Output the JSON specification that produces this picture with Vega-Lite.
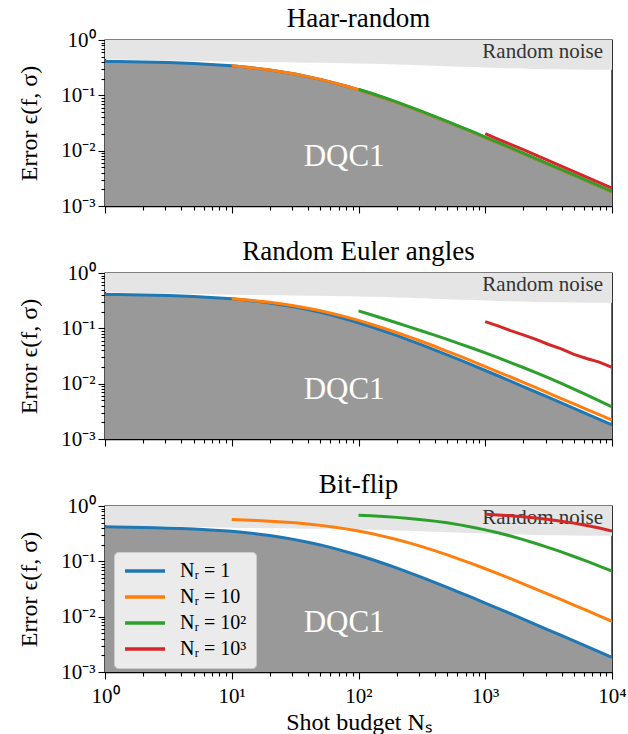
{
  "$schema": "https://vega.github.io/schema/vega-lite/v6.json",
  "padding": {"left": 17, "top": 4, "right": 0, "bottom": 0},
  "datasets": {
    "base": [
      {"x": 1, "dqc": 0.41, "noise": 0.45},
      {"x": 1.259, "dqc": 0.408, "noise": 0.445},
      {"x": 1.585, "dqc": 0.405, "noise": 0.44},
      {"x": 1.995, "dqc": 0.401, "noise": 0.435},
      {"x": 2.512, "dqc": 0.397, "noise": 0.43},
      {"x": 3.162, "dqc": 0.391, "noise": 0.425},
      {"x": 3.981, "dqc": 0.384, "noise": 0.42},
      {"x": 5.012, "dqc": 0.376, "noise": 0.416},
      {"x": 6.31, "dqc": 0.366, "noise": 0.412},
      {"x": 7.943, "dqc": 0.355, "noise": 0.408},
      {"x": 10, "dqc": 0.341, "noise": 0.405},
      {"x": 12.59, "dqc": 0.325, "noise": 0.402},
      {"x": 15.85, "dqc": 0.307, "noise": 0.4},
      {"x": 19.95, "dqc": 0.287, "noise": 0.397},
      {"x": 25.12, "dqc": 0.265, "noise": 0.395},
      {"x": 31.62, "dqc": 0.242, "noise": 0.392},
      {"x": 39.81, "dqc": 0.218, "noise": 0.39},
      {"x": 50.12, "dqc": 0.194, "noise": 0.387},
      {"x": 63.1, "dqc": 0.17, "noise": 0.385},
      {"x": 79.43, "dqc": 0.1475, "noise": 0.382},
      {"x": 100, "dqc": 0.126, "noise": 0.378},
      {"x": 125.9, "dqc": 0.107, "noise": 0.373},
      {"x": 158.5, "dqc": 0.0896, "noise": 0.368},
      {"x": 199.5, "dqc": 0.0745, "noise": 0.362},
      {"x": 251.2, "dqc": 0.0614, "noise": 0.356},
      {"x": 316.2, "dqc": 0.0503, "noise": 0.35},
      {"x": 398.1, "dqc": 0.0409, "noise": 0.343},
      {"x": 501.2, "dqc": 0.0332, "noise": 0.336},
      {"x": 631, "dqc": 0.0268, "noise": 0.33},
      {"x": 794.3, "dqc": 0.0216, "noise": 0.324},
      {"x": 1000, "dqc": 0.0173, "noise": 0.318},
      {"x": 1259, "dqc": 0.0139, "noise": 0.313},
      {"x": 1585, "dqc": 0.0111, "noise": 0.308},
      {"x": 1995, "dqc": 0.00886, "noise": 0.304},
      {"x": 2512, "dqc": 0.00707, "noise": 0.3},
      {"x": 3162, "dqc": 0.00563, "noise": 0.297},
      {"x": 3981, "dqc": 0.00449, "noise": 0.295},
      {"x": 5012, "dqc": 0.00357, "noise": 0.293},
      {"x": 6310, "dqc": 0.00284, "noise": 0.291},
      {"x": 7943, "dqc": 0.00226, "noise": 0.29},
      {"x": 10000, "dqc": 0.0018, "noise": 0.289}
    ],
    "lines": [
      {"p": "haar", "x": 1, "a": 0.41},
      {"p": "haar", "x": 1.259, "a": 0.408},
      {"p": "haar", "x": 1.585, "a": 0.405},
      {"p": "haar", "x": 1.995, "a": 0.401},
      {"p": "haar", "x": 2.512, "a": 0.397},
      {"p": "haar", "x": 3.162, "a": 0.391},
      {"p": "haar", "x": 3.981, "a": 0.384},
      {"p": "haar", "x": 5.012, "a": 0.376},
      {"p": "haar", "x": 6.31, "a": 0.366},
      {"p": "haar", "x": 7.943, "a": 0.355},
      {"p": "haar", "x": 10, "a": 0.341, "b": 0.341},
      {"p": "haar", "x": 12.59, "a": 0.325, "b": 0.325},
      {"p": "haar", "x": 15.85, "a": 0.307, "b": 0.307},
      {"p": "haar", "x": 19.95, "a": 0.287, "b": 0.287},
      {"p": "haar", "x": 25.12, "a": 0.265, "b": 0.265},
      {"p": "haar", "x": 31.62, "a": 0.242, "b": 0.242},
      {"p": "haar", "x": 39.81, "a": 0.218, "b": 0.218},
      {"p": "haar", "x": 50.12, "a": 0.194, "b": 0.194},
      {"p": "haar", "x": 63.1, "a": 0.17, "b": 0.17},
      {"p": "haar", "x": 79.43, "a": 0.1475, "b": 0.1475},
      {"p": "haar", "x": 100, "a": 0.126, "b": 0.126, "c": 0.1285},
      {"p": "haar", "x": 125.9, "a": 0.107, "b": 0.107, "c": 0.1091},
      {"p": "haar", "x": 158.5, "a": 0.0896, "b": 0.0896, "c": 0.0914},
      {"p": "haar", "x": 199.5, "a": 0.0745, "b": 0.0745, "c": 0.076},
      {"p": "haar", "x": 251.2, "a": 0.0614, "b": 0.0614, "c": 0.0626},
      {"p": "haar", "x": 316.2, "a": 0.0503, "b": 0.0503, "c": 0.0513},
      {"p": "haar", "x": 398.1, "a": 0.0409, "b": 0.0409, "c": 0.0417},
      {"p": "haar", "x": 501.2, "a": 0.0332, "b": 0.0332, "c": 0.0339},
      {"p": "haar", "x": 631, "a": 0.0268, "b": 0.0268, "c": 0.0273},
      {"p": "haar", "x": 794.3, "a": 0.0216, "b": 0.0216, "c": 0.022},
      {"p": "haar", "x": 1000, "a": 0.0173, "b": 0.0173, "c": 0.01765, "d": 0.0203},
      {"p": "haar", "x": 1259, "a": 0.0139, "b": 0.0139, "c": 0.01418, "d": 0.0162},
      {"p": "haar", "x": 1585, "a": 0.0111, "b": 0.0111, "c": 0.01132, "d": 0.013},
      {"p": "haar", "x": 1995, "a": 0.00886, "b": 0.00886, "c": 0.00904, "d": 0.0104},
      {"p": "haar", "x": 2512, "a": 0.00707, "b": 0.00707, "c": 0.00721, "d": 0.00827},
      {"p": "haar", "x": 3162, "a": 0.00563, "b": 0.00563, "c": 0.00574, "d": 0.00659},
      {"p": "haar", "x": 3981, "a": 0.00449, "b": 0.00449, "c": 0.00458, "d": 0.00525},
      {"p": "haar", "x": 5012, "a": 0.00357, "b": 0.00357, "c": 0.00364, "d": 0.00418},
      {"p": "haar", "x": 6310, "a": 0.00284, "b": 0.00284, "c": 0.0029, "d": 0.00332},
      {"p": "haar", "x": 7943, "a": 0.00226, "b": 0.00226, "c": 0.00231, "d": 0.00264},
      {"p": "haar", "x": 10000, "a": 0.0018, "b": 0.0018, "c": 0.00184, "d": 0.00211},

      {"p": "euler", "x": 1, "a": 0.41},
      {"p": "euler", "x": 1.259, "a": 0.408},
      {"p": "euler", "x": 1.585, "a": 0.405},
      {"p": "euler", "x": 1.995, "a": 0.401},
      {"p": "euler", "x": 2.512, "a": 0.397},
      {"p": "euler", "x": 3.162, "a": 0.391},
      {"p": "euler", "x": 3.981, "a": 0.384},
      {"p": "euler", "x": 5.012, "a": 0.376},
      {"p": "euler", "x": 6.31, "a": 0.366},
      {"p": "euler", "x": 7.943, "a": 0.355},
      {"p": "euler", "x": 10, "a": 0.341, "b": 0.341},
      {"p": "euler", "x": 12.59, "a": 0.325, "b": 0.328},
      {"p": "euler", "x": 15.85, "a": 0.307, "b": 0.313},
      {"p": "euler", "x": 19.95, "a": 0.287, "b": 0.296},
      {"p": "euler", "x": 25.12, "a": 0.265, "b": 0.276},
      {"p": "euler", "x": 31.62, "a": 0.242, "b": 0.254},
      {"p": "euler", "x": 39.81, "a": 0.218, "b": 0.231},
      {"p": "euler", "x": 50.12, "a": 0.194, "b": 0.2075},
      {"p": "euler", "x": 63.1, "a": 0.17, "b": 0.184},
      {"p": "euler", "x": 79.43, "a": 0.1475, "b": 0.161},
      {"p": "euler", "x": 100, "a": 0.126, "b": 0.139, "c": 0.207},
      {"p": "euler", "x": 125.9, "a": 0.107, "b": 0.1187, "c": 0.176},
      {"p": "euler", "x": 158.5, "a": 0.0896, "b": 0.1004, "c": 0.149},
      {"p": "euler", "x": 199.5, "a": 0.0745, "b": 0.0842, "c": 0.126},
      {"p": "euler", "x": 251.2, "a": 0.0614, "b": 0.07, "c": 0.106},
      {"p": "euler", "x": 316.2, "a": 0.0503, "b": 0.0578, "c": 0.0895},
      {"p": "euler", "x": 398.1, "a": 0.0409, "b": 0.0474, "c": 0.0752},
      {"p": "euler", "x": 501.2, "a": 0.0332, "b": 0.0385, "c": 0.063},
      {"p": "euler", "x": 631, "a": 0.0268, "b": 0.0314, "c": 0.0525},
      {"p": "euler", "x": 794.3, "a": 0.0216, "b": 0.0253, "c": 0.0436},
      {"p": "euler", "x": 1000, "a": 0.0173, "b": 0.0204, "c": 0.036, "d": 0.132},
      {"p": "euler", "x": 1259, "a": 0.0139, "b": 0.01637, "c": 0.0295, "d": 0.111},
      {"p": "euler", "x": 1585, "a": 0.0111, "b": 0.0132, "c": 0.0241, "d": 0.0912},
      {"p": "euler", "x": 1995, "a": 0.00886, "b": 0.01054, "c": 0.0196, "d": 0.0762},
      {"p": "euler", "x": 2512, "a": 0.00707, "b": 0.00848, "c": 0.0158, "d": 0.0631},
      {"p": "euler", "x": 3162, "a": 0.00563, "b": 0.00676, "c": 0.0127, "d": 0.051},
      {"p": "euler", "x": 3981, "a": 0.00449, "b": 0.00539, "c": 0.0101, "d": 0.0427},
      {"p": "euler", "x": 5012, "a": 0.00357, "b": 0.00432, "c": 0.00798, "d": 0.0339},
      {"p": "euler", "x": 6310, "a": 0.00284, "b": 0.00344, "c": 0.00627, "d": 0.0285},
      {"p": "euler", "x": 7943, "a": 0.00226, "b": 0.00276, "c": 0.0049, "d": 0.0245},
      {"p": "euler", "x": 10000, "a": 0.0018, "b": 0.0022, "c": 0.0038, "d": 0.0198},

      {"p": "flip", "x": 1, "a": 0.42},
      {"p": "flip", "x": 1.259, "a": 0.417},
      {"p": "flip", "x": 1.585, "a": 0.414},
      {"p": "flip", "x": 1.995, "a": 0.41},
      {"p": "flip", "x": 2.512, "a": 0.405},
      {"p": "flip", "x": 3.162, "a": 0.398},
      {"p": "flip", "x": 3.981, "a": 0.391},
      {"p": "flip", "x": 5.012, "a": 0.383},
      {"p": "flip", "x": 6.31, "a": 0.373},
      {"p": "flip", "x": 7.943, "a": 0.362},
      {"p": "flip", "x": 10, "a": 0.348, "b": 0.5685},
      {"p": "flip", "x": 12.59, "a": 0.331, "b": 0.5587},
      {"p": "flip", "x": 15.85, "a": 0.313, "b": 0.5467},
      {"p": "flip", "x": 19.95, "a": 0.293, "b": 0.5325},
      {"p": "flip", "x": 25.12, "a": 0.27, "b": 0.5155},
      {"p": "flip", "x": 31.62, "a": 0.247, "b": 0.4956},
      {"p": "flip", "x": 39.81, "a": 0.222, "b": 0.4726},
      {"p": "flip", "x": 50.12, "a": 0.198, "b": 0.4466},
      {"p": "flip", "x": 63.1, "a": 0.173, "b": 0.4176},
      {"p": "flip", "x": 79.43, "a": 0.15, "b": 0.3861},
      {"p": "flip", "x": 100, "a": 0.129, "b": 0.3526, "c": 0.6804},
      {"p": "flip", "x": 125.9, "a": 0.109, "b": 0.3179, "c": 0.6645},
      {"p": "flip", "x": 158.5, "a": 0.0914, "b": 0.2828, "c": 0.6454},
      {"p": "flip", "x": 199.5, "a": 0.076, "b": 0.2484, "c": 0.6229},
      {"p": "flip", "x": 251.2, "a": 0.0626, "b": 0.2153, "c": 0.5968},
      {"p": "flip", "x": 316.2, "a": 0.0513, "b": 0.1844, "c": 0.5668},
      {"p": "flip", "x": 398.1, "a": 0.0417, "b": 0.1562, "c": 0.533},
      {"p": "flip", "x": 501.2, "a": 0.0339, "b": 0.131, "c": 0.4959},
      {"p": "flip", "x": 631, "a": 0.0273, "b": 0.1088, "c": 0.4559},
      {"p": "flip", "x": 794.3, "a": 0.022, "b": 0.0897, "c": 0.4139},
      {"p": "flip", "x": 1000, "a": 0.01765, "b": 0.0735, "c": 0.3708, "d": 0.71},
      {"p": "flip", "x": 1259, "a": 0.01418, "b": 0.0599, "c": 0.3279, "d": 0.69},
      {"p": "flip", "x": 1585, "a": 0.01132, "b": 0.0485, "c": 0.2862, "d": 0.666},
      {"p": "flip", "x": 1995, "a": 0.00904, "b": 0.0392, "c": 0.2467, "d": 0.639},
      {"p": "flip", "x": 2512, "a": 0.00721, "b": 0.0315, "c": 0.2101, "d": 0.607},
      {"p": "flip", "x": 3162, "a": 0.00574, "b": 0.0253, "c": 0.1772, "d": 0.571},
      {"p": "flip", "x": 3981, "a": 0.00458, "b": 0.0203, "c": 0.1479, "d": 0.532},
      {"p": "flip", "x": 5012, "a": 0.00364, "b": 0.0162, "c": 0.1224, "d": 0.49},
      {"p": "flip", "x": 6310, "a": 0.0029, "b": 0.01296, "c": 0.1006, "d": 0.445},
      {"p": "flip", "x": 7943, "a": 0.00231, "b": 0.01034, "c": 0.0822, "d": 0.399},
      {"p": "flip", "x": 10000, "a": 0.00184, "b": 0.00824, "c": 0.0668, "d": 0.353}
    ]
  },
  "spacing": 20,
  "resolve": {"scale": {"color": "independent"}, "legend": {"color": "independent"}},
  "vconcat": [
    {
      "title": "Haar-random",
      "width": 507,
      "height": 166,
      "layer": [
        {
          "data": {"name": "base"},
          "mark": {"type": "area", "color": "#e5e5e5", "clip": true},
          "encoding": {
            "x": {"field": "x", "type": "quantitative", "scale": {"type": "log", "domain": [1, 10000]},
              "axis": {"title": null, "labels": false,
                "values": [1,2,3,4,5,6,7,8,9,10,20,30,40,50,60,70,80,90,100,200,300,400,500,600,700,800,900,1000,2000,3000,4000,5000,6000,7000,8000,9000,10000],
                "tickSize": {"condition": {"test": "datum.value == 1 || datum.value == 10 || datum.value == 100 || datum.value == 1000 || datum.value == 10000", "value": 7}, "value": 4}}},
            "y": {"field": "noise", "type": "quantitative", "scale": {"type": "log", "domain": [0.001, 1]},
              "axis": {"title": "Error ϵ(f, σ)",
                "values": [0.001,0.002,0.003,0.004,0.005,0.006,0.007,0.008,0.009,0.01,0.02,0.03,0.04,0.05,0.06,0.07,0.08,0.09,0.1,0.2,0.3,0.4,0.5,0.6,0.7,0.8,0.9,1],
                "labelExpr": "datum.value == 1 ? '10⁰' : datum.value == 0.1 ? '10⁻¹' : datum.value == 0.01 ? '10⁻²' : datum.value == 0.001 ? '10⁻³' : ''",
                "tickSize": {"condition": {"test": "datum.value == 1 || datum.value == 0.1 || datum.value == 0.01 || datum.value == 0.001", "value": 7}, "value": 4}}},
            "y2": {"datum": 1}
          }
        },
        {
          "data": {"name": "base"},
          "mark": {"type": "area", "color": "#999999", "clip": true},
          "encoding": {
            "x": {"field": "x", "type": "quantitative"},
            "y": {"field": "dqc", "type": "quantitative"},
            "y2": {"datum": 0.001}
          }
        },
        {
          "data": {"values": [{}]},
          "mark": {"type": "text", "text": "Random noise", "align": "right", "baseline": "middle", "fontSize": 21, "color": "#333333"},
          "encoding": {"x": {"datum": 8500, "type": "quantitative"}, "y": {"datum": 0.6, "type": "quantitative"}}
        },
        {
          "data": {"values": [{}]},
          "mark": {"type": "text", "text": "DQC1", "align": "center", "baseline": "middle", "fontSize": 31, "color": "white"},
          "encoding": {"x": {"datum": 77, "type": "quantitative"}, "y": {"datum": 0.0076, "type": "quantitative"}}
        },
        {
          "data": {"name": "lines"},
          "transform": [
            {"filter": "datum.p == 'haar'"},
            {"fold": ["a", "b", "c", "d"], "as": ["s", "v"]},
            {"filter": "isValid(datum.v)"}
          ],
          "mark": {"type": "line", "strokeWidth": 3, "clip": true},
          "encoding": {
            "x": {"field": "x", "type": "quantitative"},
            "y": {"field": "v", "type": "quantitative"},
            "color": {"field": "s", "type": "nominal", "scale": {"domain": ["a", "b", "c", "d"], "range": ["#1f77b4", "#ff7f0e", "#2ca02c", "#d62728"]}, "legend": null}
          }
        }
      ]
    },
    {
      "title": "Random Euler angles",
      "width": 507,
      "height": 166,
      "layer": [
        {
          "data": {"name": "base"},
          "mark": {"type": "area", "color": "#e5e5e5", "clip": true},
          "encoding": {
            "x": {"field": "x", "type": "quantitative", "scale": {"type": "log", "domain": [1, 10000]},
              "axis": {"title": null, "labels": false,
                "values": [1,2,3,4,5,6,7,8,9,10,20,30,40,50,60,70,80,90,100,200,300,400,500,600,700,800,900,1000,2000,3000,4000,5000,6000,7000,8000,9000,10000],
                "tickSize": {"condition": {"test": "datum.value == 1 || datum.value == 10 || datum.value == 100 || datum.value == 1000 || datum.value == 10000", "value": 7}, "value": 4}}},
            "y": {"field": "noise", "type": "quantitative", "scale": {"type": "log", "domain": [0.001, 1]},
              "axis": {"title": "Error ϵ(f, σ)",
                "values": [0.001,0.002,0.003,0.004,0.005,0.006,0.007,0.008,0.009,0.01,0.02,0.03,0.04,0.05,0.06,0.07,0.08,0.09,0.1,0.2,0.3,0.4,0.5,0.6,0.7,0.8,0.9,1],
                "labelExpr": "datum.value == 1 ? '10⁰' : datum.value == 0.1 ? '10⁻¹' : datum.value == 0.01 ? '10⁻²' : datum.value == 0.001 ? '10⁻³' : ''",
                "tickSize": {"condition": {"test": "datum.value == 1 || datum.value == 0.1 || datum.value == 0.01 || datum.value == 0.001", "value": 7}, "value": 4}}},
            "y2": {"datum": 1}
          }
        },
        {
          "data": {"name": "base"},
          "mark": {"type": "area", "color": "#999999", "clip": true},
          "encoding": {
            "x": {"field": "x", "type": "quantitative"},
            "y": {"field": "dqc", "type": "quantitative"},
            "y2": {"datum": 0.001}
          }
        },
        {
          "data": {"values": [{}]},
          "mark": {"type": "text", "text": "Random noise", "align": "right", "baseline": "middle", "fontSize": 21, "color": "#333333"},
          "encoding": {"x": {"datum": 8500, "type": "quantitative"}, "y": {"datum": 0.6, "type": "quantitative"}}
        },
        {
          "data": {"values": [{}]},
          "mark": {"type": "text", "text": "DQC1", "align": "center", "baseline": "middle", "fontSize": 31, "color": "white"},
          "encoding": {"x": {"datum": 77, "type": "quantitative"}, "y": {"datum": 0.0076, "type": "quantitative"}}
        },
        {
          "data": {"name": "lines"},
          "transform": [
            {"filter": "datum.p == 'euler'"},
            {"fold": ["a", "b", "c", "d"], "as": ["s", "v"]},
            {"filter": "isValid(datum.v)"}
          ],
          "mark": {"type": "line", "strokeWidth": 3, "clip": true},
          "encoding": {
            "x": {"field": "x", "type": "quantitative"},
            "y": {"field": "v", "type": "quantitative"},
            "color": {"field": "s", "type": "nominal", "scale": {"domain": ["a", "b", "c", "d"], "range": ["#1f77b4", "#ff7f0e", "#2ca02c", "#d62728"]}, "legend": null}
          }
        }
      ]
    },
    {
      "title": "Bit-flip",
      "width": 507,
      "height": 166,
      "layer": [
        {
          "data": {"name": "base"},
          "mark": {"type": "area", "color": "#e5e5e5", "clip": true},
          "encoding": {
            "x": {"field": "x", "type": "quantitative", "scale": {"type": "log", "domain": [1, 10000]},
              "axis": {"title": "Shot budget Nₛ",
                "values": [1,2,3,4,5,6,7,8,9,10,20,30,40,50,60,70,80,90,100,200,300,400,500,600,700,800,900,1000,2000,3000,4000,5000,6000,7000,8000,9000,10000],
                "labelExpr": "datum.value == 1 ? '10⁰' : datum.value == 10 ? '10¹' : datum.value == 100 ? '10²' : datum.value == 1000 ? '10³' : datum.value == 10000 ? '10⁴' : ''",
                "labelPadding": 6, "titlePadding": 4,
                "tickSize": {"condition": {"test": "datum.value == 1 || datum.value == 10 || datum.value == 100 || datum.value == 1000 || datum.value == 10000", "value": 7}, "value": 4}}},
            "y": {"field": "noise", "type": "quantitative", "scale": {"type": "log", "domain": [0.001, 1]},
              "axis": {"title": "Error ϵ(f, σ)",
                "values": [0.001,0.002,0.003,0.004,0.005,0.006,0.007,0.008,0.009,0.01,0.02,0.03,0.04,0.05,0.06,0.07,0.08,0.09,0.1,0.2,0.3,0.4,0.5,0.6,0.7,0.8,0.9,1],
                "labelExpr": "datum.value == 1 ? '10⁰' : datum.value == 0.1 ? '10⁻¹' : datum.value == 0.01 ? '10⁻²' : datum.value == 0.001 ? '10⁻³' : ''",
                "tickSize": {"condition": {"test": "datum.value == 1 || datum.value == 0.1 || datum.value == 0.01 || datum.value == 0.001", "value": 7}, "value": 4}}},
            "y2": {"datum": 1}
          }
        },
        {
          "data": {"name": "base"},
          "mark": {"type": "area", "color": "#999999", "clip": true},
          "encoding": {
            "x": {"field": "x", "type": "quantitative"},
            "y": {"field": "dqc", "type": "quantitative"},
            "y2": {"datum": 0.001}
          }
        },
        {
          "data": {"values": [{}]},
          "mark": {"type": "text", "text": "Random noise", "align": "right", "baseline": "middle", "fontSize": 21, "color": "#333333"},
          "encoding": {"x": {"datum": 8500, "type": "quantitative"}, "y": {"datum": 0.6, "type": "quantitative"}}
        },
        {
          "data": {"values": [{}]},
          "mark": {"type": "text", "text": "DQC1", "align": "center", "baseline": "middle", "fontSize": 31, "color": "white"},
          "encoding": {"x": {"datum": 77, "type": "quantitative"}, "y": {"datum": 0.0076, "type": "quantitative"}}
        },
        {
          "data": {"name": "lines"},
          "transform": [
            {"filter": "datum.p == 'flip'"},
            {"fold": ["a", "b", "c", "d"], "as": ["s", "v"]},
            {"filter": "isValid(datum.v)"}
          ],
          "mark": {"type": "line", "strokeWidth": 3, "clip": true},
          "encoding": {
            "x": {"field": "x", "type": "quantitative"},
            "y": {"field": "v", "type": "quantitative"},
            "color": {"field": "s", "type": "nominal",
              "scale": {"domain": ["a", "b", "c", "d"], "range": ["#1f77b4", "#ff7f0e", "#2ca02c", "#d62728"]},
              "legend": {
                "title": null, "orient": "none", "legendX": 9, "legendY": 46,
                "symbolType": "stroke", "symbolSize": 1600, "symbolStrokeWidth": 3.5,
                "clipHeight": 20, "rowPadding": 6, "padding": 9, "labelOffset": 13,
                "labelFontSize": 20, "labelFont": "Liberation Serif", "labelColor": "black",
                "fillColor": "#ebebeb", "strokeColor": "#cccccc", "cornerRadius": 4,
                "labelExpr": "datum.label == 'a' ? 'Nᵣ = 1' : datum.label == 'b' ? 'Nᵣ = 10' : datum.label == 'c' ? 'Nᵣ = 10²' : 'Nᵣ = 10³'"
              }
            }
          }
        }
      ]
    }
  ],
  "config": {
    "font": "Liberation Serif",
    "view": {"stroke": "black", "strokeWidth": 1.4},
    "title": {"fontSize": 27, "fontWeight": "normal", "color": "black", "font": "Liberation Serif", "offset": -4},
    "axis": {
      "grid": false,
      "domainColor": "black", "domainWidth": 1.4,
      "tickColor": "black", "tickWidth": 1.1,
      "labelFont": "Liberation Serif", "labelFontSize": 21, "labelColor": "black",
      "labelPadding": 3, "labelOverlap": false, "labelFlush": false,
      "titleFont": "Liberation Serif", "titleFontSize": 24, "titleFontWeight": "normal", "titleColor": "black",
      "titlePadding": 19
    },
    "text": {"font": "Liberation Serif"}
  }
}
